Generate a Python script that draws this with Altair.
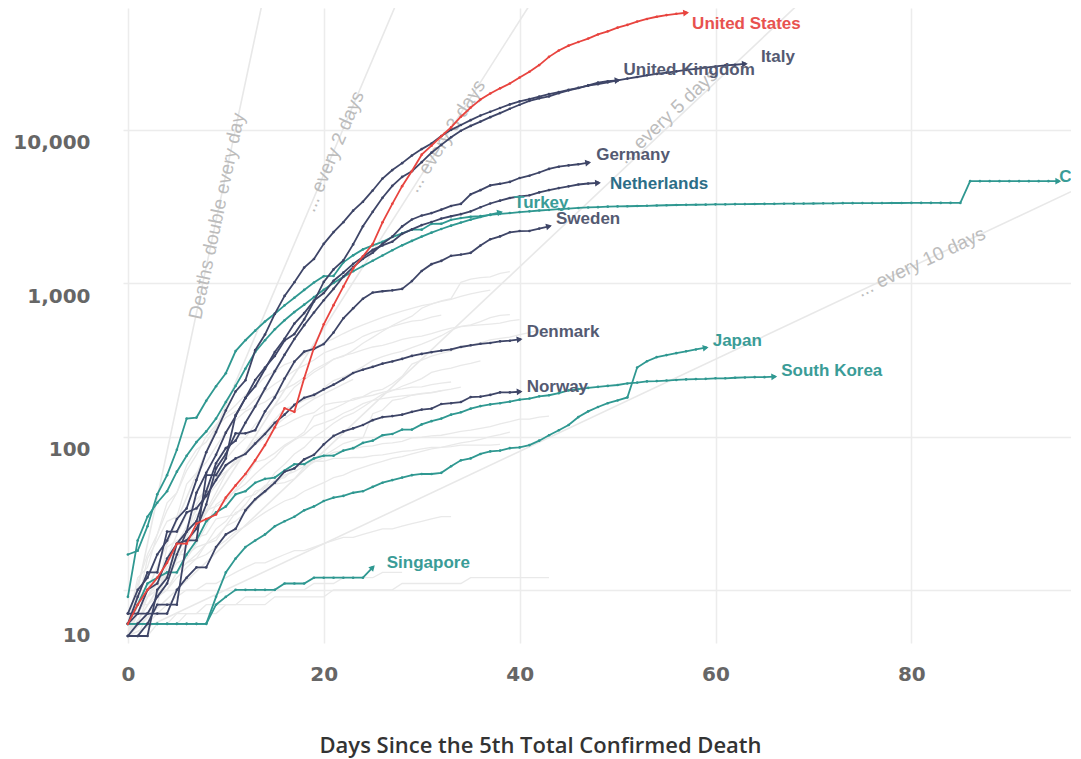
import math
import altair as alt
import pandas as pd

# ---------------- data ----------------
X_TICKS = [0, 20, 40, 60, 80]
Y_TICKS = [10, 100, 1000, 10000]

UNITED_STATES = [6, 8, 10, 12, 15, 20, 20, 27, 29, 31, 40, 48, 57, 70, 88, 115, 153, 145, 240, 380,
                 540, 720, 950, 1250, 1500, 1800, 2500, 3300, 4300, 5400, 6900, 7900, 9100, 10400, 12200,
                 14000, 15800, 17300, 18700, 20100, 22000, 24000, 26500, 30000, 33000, 35500, 37500,
                 39500, 42000, 44000, 46500, 48500, 51000, 53000, 54800, 56200, 57300, 58200]
UNITED_KINGDOM = [5, 5, 6, 8, 8, 8, 21, 21, 56, 56, 72, 138, 178, 234, 282, 336, 423, 466, 580, 761,
                  1021, 1231, 1411, 1793, 2357, 2926, 3611, 4320, 4943, 5385, 6171, 7111, 7993, 8974,
                  9892, 10629, 11347, 12129, 12894, 13759, 14607, 15498, 16095, 16550, 17378, 18151,
                  18791, 19567, 20381, 20794, 21092]
ITALY = [7, 10, 12, 17, 21, 29, 34, 52, 79, 107, 148, 197, 233, 366, 463, 631, 827, 1016, 1266, 1441,
         1809, 2158, 2503, 2978, 3405, 4032, 4825, 5476, 6077, 6820, 7503, 8165, 9134, 10023, 10779,
         11591, 12428, 13155, 13915, 14681, 15362, 15887, 16523, 17127, 17669, 18279, 18849, 19468,
         19899, 20465, 21067, 21645, 22170, 22745, 23227, 23660, 24114, 24648, 25085, 25549, 25969,
         26384, 26644, 26977]
GERMANY = [5, 6, 7, 9, 11, 17, 24, 28, 44, 67, 84, 94, 123, 157, 206, 267, 342, 433, 533, 645, 775,
           920, 1107, 1275, 1444, 1584, 1810, 2016, 2349, 2607, 2767, 2871, 3022, 3194, 3294, 3804,
           4052, 4352, 4459, 4586, 4862, 5033, 5279, 5575, 5760, 5877, 5976, 6126]
NETHERLANDS = [5, 5, 5, 10, 12, 20, 24, 43, 58, 76, 106, 136, 179, 213, 276, 356, 434, 546, 639, 771,
               864, 1039, 1173, 1339, 1487, 1651, 1766, 1867, 2101, 2248, 2396, 2511, 2643, 2737, 2823,
               2945, 3134, 3315, 3459, 3601, 3684, 3751, 3916, 4054, 4177, 4289, 4409, 4475, 4518]
TURKEY = [9, 21, 30, 37, 44, 59, 75, 92, 108, 131, 168, 214, 277, 356, 425, 501, 574, 649, 725, 812,
          908, 1006, 1101, 1198, 1296, 1403, 1518, 1643, 1769, 1890, 2017, 2140, 2259, 2376, 2491,
          2600, 2706, 2805, 2900]
SWEDEN = [6, 7, 10, 11, 16, 20, 21, 25, 36, 62, 77, 105, 105, 110, 146, 180, 239, 308, 358, 373, 401,
          477, 591, 687, 793, 870, 887, 899, 919, 1033, 1203, 1333, 1400, 1511, 1540, 1580, 1765, 1937,
          2021, 2152, 2192, 2194, 2274, 2355]
DENMARK = [6, 9, 13, 13, 24, 24, 32, 34, 41, 52, 65, 72, 77, 90, 104, 123, 139, 161, 179, 187, 203,
           218, 237, 260, 273, 285, 299, 309, 321, 336, 346, 355, 364, 370, 384, 394, 403, 408, 418,
           422, 431]
NORWAY = [7, 7, 7, 7, 7, 10, 12, 14, 14, 19, 23, 25, 33, 39, 44, 50, 59, 62, 71, 76, 89, 101, 108, 113,
          119, 128, 134, 136, 139, 145, 150, 152, 163, 165, 168, 181, 182, 187, 194, 194, 196]
JAPAN = [6, 6, 6, 6, 6, 6, 6, 6, 6, 9, 13, 16, 19, 21, 23, 26, 28, 30, 33, 35, 38, 40, 41, 43, 44, 47,
         50, 52, 54, 56, 57, 57, 58, 64, 70, 72, 77, 80, 81, 84, 85, 88, 94, 102, 110, 119, 134, 146,
         156, 165, 172, 180, 282, 310, 330, 340, 350, 360, 370, 380]
SOUTH_KOREA = [6, 8, 11, 12, 13, 13, 17, 21, 28, 32, 35, 42, 44, 50, 53, 54, 60, 66, 66, 72, 75, 75,
               81, 84, 91, 94, 102, 104, 111, 111, 120, 126, 131, 139, 144, 152, 158, 162, 165, 169,
               174, 177, 183, 186, 192, 200, 204, 208, 211, 214, 217, 222, 225, 229, 230, 232, 234,
               236, 237, 238, 240, 240, 242, 243, 244, 244, 246]
SINGAPORE = [6, 6, 6, 6, 6, 6, 6, 6, 6, 8, 9, 10, 10, 10, 10, 10, 11, 11, 11, 12, 12, 12, 12, 12, 12, 14]
CHINA = [17, 18, 26, 42, 56, 82, 131, 133, 171, 213,
         259, 361, 425, 491, 563, 633, 718, 805, 905, 1012,
         1112, 1117, 1369, 1521, 1663, 1766, 1864, 2003, 2116, 2238,
         2238, 2443, 2445, 2595, 2665, 2717, 2746, 2790, 2837,
         2872, 2914, 2947, 2983, 3015, 3044, 3072, 3100, 3123, 3139,
         3161, 3172, 3180, 3193, 3203, 3217, 3230, 3241, 3249, 3253,
         3259, 3274, 3274, 3281, 3285, 3291, 3296, 3299, 3304, 3308, 3309,
         3316, 3322, 3326, 3330, 3333, 3335, 3335, 3337, 3339, 3340,
         3343, 3343, 3345, 3345, 3346, 3346, 4636, 4636, 4636, 4636,
         4636, 4636, 4636, 4637, 4637, 4637]

# other countries, drawn in light grey
GREY_A = [5, 6, 9, 10, 19, 21, 22, 36, 46, 54, 71, 85, 98, 120, 137, 158, 174, 210, 235, 263, 287, 320,
          334, 365, 406, 444, 486, 530, 571, 610, 687, 730, 769, 794, 1014, 1063, 1087, 1102, 1159, 1190]
GREY_B = [6, 12, 14, 23, 33, 43, 60, 76, 100, 119, 140, 160, 187, 209, 246, 266, 295, 311, 345, 380,
          409, 435, 470, 504, 535, 567, 599, 629, 657, 687, 714, 735, 762, 785, 820, 854, 880, 903]
GREY_C = [6, 8, 16, 21, 28, 30, 49, 58, 68, 86, 108, 128, 146, 158, 168, 186, 204, 220, 243, 273, 295,
          319, 337, 350, 368, 384, 393, 410, 431, 443, 452, 470, 491, 510, 522, 530, 536, 542, 549, 569, 580]
GREY_D = [5, 5, 7, 8, 14, 17, 22, 31, 33, 43, 57, 71, 79, 94, 107, 129, 152, 159, 173, 181, 208, 232,
          245, 263, 286, 314, 332, 347, 360, 380, 401, 426, 455, 494, 524, 535, 562, 596, 618, 624]
GREY_E = [6, 11, 17, 23, 37, 43, 65, 82, 92, 115, 133, 146, 151, 176, 197, 220, 242, 270, 291, 316,
          351, 372, 392, 411, 451, 478, 498, 524, 545, 567, 575, 601, 619]
GREY_F = [6, 9, 9, 11, 16, 23, 31, 39, 44, 53, 59, 67, 78, 88, 99, 112, 119, 129, 138, 143, 161, 166,
          169, 173, 181, 186, 194, 201, 205, 210, 211, 218, 223, 227]
GREY_G = [5, 7, 9, 11, 13, 17, 17, 19, 20, 25, 28, 34, 40, 42, 48, 49, 56, 59, 64, 72, 75, 82, 90, 94,
          98, 141, 149, 172, 177, 186, 190, 193, 199]
GREY_H = [5, 6, 6, 9, 10, 13, 15, 17, 20, 22, 26, 28, 32, 38, 43, 49, 50, 53, 63, 68, 73, 79, 81, 83,
          86, 87, 90, 91, 93, 98, 99, 101, 102, 105, 108, 110, 113, 116, 121, 125, 130, 130, 134, 136]
GREY_I = [7, 8, 8, 9, 15, 18, 21, 22, 23, 29, 30, 31, 36, 44, 46, 52, 54, 62, 66, 69, 69, 72, 72, 73,
          73, 75, 76, 78, 80, 81, 83, 85, 85, 86, 88, 88, 88, 88, 89]
GREY_J = [6, 7, 9, 10, 10, 13, 15, 16, 20, 21, 26, 32, 34, 38, 47, 58, 66, 77, 85, 99, 109, 122, 134,
          142, 156, 172, 189, 199, 213, 225, 239, 262, 272, 280, 291, 300, 312]
GREY_K = [5, 8, 10, 12, 12, 15, 16, 20, 26, 36, 40, 44, 49, 57, 65, 73, 86, 95, 103, 117, 123, 130, 142,
          151, 164, 172, 177, 181, 184, 187, 191, 194, 199, 204, 210]
GREY_L = [5, 8, 11, 12, 12, 17, 19, 25, 33, 35, 38, 45, 54, 68, 71, 78, 88, 96, 107, 136, 144, 152, 163,
          177, 182, 197, 203, 221, 247, 297, 315, 335, 349, 362, 387, 397, 409, 428, 437, 446, 462, 477,
          494, 501, 511]
GREY_M = [5, 5, 6, 6, 6, 7, 7, 7, 8, 8, 8, 8, 9, 9, 9, 10, 10, 10, 10, 11, 11, 11, 12, 12, 12, 12, 13, 13, 13]
GREY_N = [5, 6, 6, 7, 8, 9, 10, 10, 11, 11, 12, 13, 14, 15, 15, 16, 17, 18, 18, 19, 20, 21, 22, 22, 23,
          24, 25, 25, 26, 27, 28, 29, 30, 30]
GREY_O = [5, 6, 7, 9, 10, 12, 14, 16, 17, 19, 21, 24, 26, 29, 32, 35, 38, 40, 44, 47, 50, 54, 56, 60, 63,
          66, 69, 72, 74, 77, 80, 83, 85, 88, 91, 93, 96, 100, 103, 107]
GREY_P = [5, 5, 5, 6, 6, 6, 7, 7, 7, 7, 8, 8, 8, 8, 8, 9, 9, 9, 9, 9, 9, 10, 10, 10, 10, 10, 10, 10, 11, 11,
          11, 11, 11, 11, 11, 12, 12, 12, 12, 12, 12, 12, 12, 12]
GREY_Q = [6, 7, 9, 12, 15, 20, 26, 33, 40, 48, 58, 68, 80, 91, 103, 117, 132, 145, 160, 176, 190, 204,
          220, 236]

HIGHLIGHT = [
    ("China", "teal", CHINA),
    ("Singapore", "teal", SINGAPORE),
    ("South Korea", "teal", SOUTH_KOREA),
    ("Japan", "teal", JAPAN),
    ("Turkey", "teal", TURKEY),
    ("Norway", "navy", NORWAY),
    ("Denmark", "navy", DENMARK),
    ("Sweden", "navy", SWEDEN),
    ("Netherlands", "navy", NETHERLANDS),
    ("Germany", "navy", GERMANY),
    ("United Kingdom", "navy", UNITED_KINGDOM),
    ("Italy", "navy", ITALY),
    ("United States", "red", UNITED_STATES),
]
GREYS = [GREY_A, GREY_B, GREY_C, GREY_D, GREY_E, GREY_F, GREY_G, GREY_H, GREY_I, GREY_J,
         GREY_K, GREY_L, GREY_M, GREY_N, GREY_O, GREY_P, GREY_Q]

REF_PERIODS = [1, 2, 3, 5, 10]
REF_TEXTS = ["Deaths double every day", "... every 2 days", "... every 3 days",
             "... every 5 days", "... every 10 days"]
REF_LABEL_DAYS = [9.1, 21.0, 32.5, 55.7, 81.0]

# ---------------- styles ----------------
X_MIN, X_MAX = -0.5, 96.3
Y_MIN, Y_MAX = 4.5, 62500
PLOT_W, PLOT_H = 948, 635
PX_PER_DAY = PLOT_W / (X_MAX - X_MIN)
PX_PER_DECADE = PLOT_H / (math.log10(Y_MAX) - math.log10(Y_MIN))

LINE_COLORS = {"teal": "#2f9891", "navy": "#3e4567", "red": "#e8443f"}
TEXT_COLORS = {"teal": "#3a9c97", "navy": "#545a72", "red": "#e8524f"}
LABEL_OFFSETS = {  # dx, dy in px from the end of each line
    "United States": (6, 11), "United Kingdom": (6, -10), "Italy": (16, -7),
    "Germany": (8, -8), "Netherlands": (12, 1), "Turkey": (14, -9),
    "Sweden": (7, -7), "Denmark": (7, -7), "Norway": (7, -5),
    "Japan": (7, -7), "South Korea": (7, -6), "Singapore": (14, -4), "China": (1, -4),
}
REF_LABEL_DY = [0, 0, 0, -8, 0]
LABEL_COLOR_OVERRIDE = {"Netherlands": "#2c6d87"}
FONT_AX = "DejaVu Sans"
FONT_LBL = "Liberation Sans"


def seg_angle(prev_v, last_v):
    dy = PX_PER_DECADE * (math.log10(last_v) - math.log10(prev_v))
    deg = math.degrees(math.atan2(dy, PX_PER_DAY))
    return (360 - deg) % 360


# ---------------- tables ----------------
rows = []
ends = []
for name, grp, vals in HIGHLIGHT:
    for d, v in enumerate(vals):
        rows.append({"country": name, "group": grp, "day": d, "deaths": v})
    ends.append({"country": name, "group": grp, "day": len(vals) - 1, "deaths": vals[-1],
                 "angle": seg_angle(vals[-2], vals[-1])})
hl = pd.DataFrame(rows)
ends_df = pd.DataFrame(ends)

grey_rows = []
for i, vals in enumerate(GREYS):
    for d, v in enumerate(vals):
        grey_rows.append({"country": f"g{i}", "day": d, "deaths": v})
grey = pd.DataFrame(grey_rows)

ref_rows, ref_lbl = [], []
for k, txt, ld in zip(REF_PERIODS, REF_TEXTS, REF_LABEL_DAYS):
    end_day = min(X_MAX, k * math.log2(Y_MAX * 1.2 / 5))
    ref_rows.append({"k": k, "day": 0, "deaths": 5})
    ref_rows.append({"k": k, "day": end_day, "deaths": 5 * 2 ** (end_day / k)})
    slope = math.degrees(math.atan2(PX_PER_DECADE * math.log10(2) / k, PX_PER_DAY))
    ref_lbl.append({"k": k, "text": txt, "day": ld, "deaths": 5 * 2 ** (ld / k),
                    "angle": (360 - slope) % 360})
ref = pd.DataFrame(ref_rows)
ref_lbl_df = pd.DataFrame(ref_lbl)

# ---------------- encodings ----------------
x_axis = alt.Axis(values=X_TICKS, grid=True, gridColor="#ececec", gridWidth=1.5, domain=False,
                  ticks=False, labelFont=FONT_AX, labelFontSize=20, labelColor="#666666",
                  labelFontWeight="bold", labelPadding=21, labelFlush=False,
                  titleFont="Open Sans", titleFontSize=22, titleFontWeight=600,
                  titleColor="#333333", titleX=417, titleY=102, titleBaseline="middle",
                  titleAlign="center", titleAnchor="start")
y_axis = alt.Axis(values=Y_TICKS, format=",", grid=True, gridColor="#ececec", gridWidth=1.5,
                  domain=False, ticks=False, labelFont=FONT_AX, labelFontSize=20,
                  labelColor="#666666", labelFontWeight="bold", labelPadding=33,
                  labelOffset={"condition": {"test": "datum.value == 10", "value": 46}, "value": 13})

X = alt.X("day:Q", scale=alt.Scale(domain=[X_MIN, X_MAX], nice=False, zero=False),
          axis=x_axis, title="Days Since the 5th Total Confirmed Death")
Y = alt.Y("deaths:Q", scale=alt.Scale(type="log", domain=[Y_MIN, Y_MAX], nice=False),
          axis=y_axis, title=None)

color_scale = alt.Scale(domain=list(LINE_COLORS.keys()), range=list(LINE_COLORS.values()))

ref_lines = alt.Chart(ref).mark_line(color="#e8e8e8", strokeWidth=1.6, clip=True).encode(
    x=X, y=Y, detail="k:N")
grey_lines = alt.Chart(grey).mark_line(color="#e9e9e9", strokeWidth=1.3, clip=True).encode(
    x=X, y=Y, detail="country:N")

layers = [ref_lines, grey_lines]
for i, row in ref_lbl_df.iterrows():
    layers.append(alt.Chart(ref_lbl_df.iloc[[i]]).mark_text(
        color="#bcbcbc", fontSize=19, font=FONT_LBL, align="center", baseline="middle",
        dy=REF_LABEL_DY[i]).encode(x=X, y=Y, text="text:N",
                                   angle=alt.Angle("angle:Q", scale=None)))

for grp in ["teal", "navy", "red"]:
    sub = hl[hl["group"] == grp]
    layers.append(alt.Chart(sub).mark_line(
        strokeWidth=1.8, clip=True,
        point=alt.OverlayMarkDef(size=7, filled=True, opacity=1)).encode(
        x=X, y=Y, detail="country:N",
        color=alt.Color("group:N", scale=color_scale, legend=None),
        order="day:Q"))

arrows = alt.Chart(ends_df).mark_point(shape="triangle-right", filled=True, size=45, opacity=1,
                                       clip=True).encode(
    x=X, y=Y, color=alt.Color("group:N", scale=color_scale, legend=None),
    angle=alt.Angle("angle:Q", scale=None))
layers.append(arrows)

for name, grp, vals in HIGHLIGHT:
    dx, dy = LABEL_OFFSETS[name]
    col = LABEL_COLOR_OVERRIDE.get(name, TEXT_COLORS[grp])
    sub = ends_df[ends_df["country"] == name]
    layers.append(alt.Chart(sub).mark_text(
        align="left", baseline="middle", dx=dx, dy=dy, font=FONT_LBL, fontSize=17,
        fontWeight="bold", color=col, clip=True).encode(x=X, y=Y, text="country:N"))

chart = alt.layer(*layers).properties(
    width=PLOT_W, height=PLOT_H,
    padding={"left": 4, "top": 0, "right": 0, "bottom": 4},
    background="white",
).configure_view(strokeWidth=0)

chart.save("out.html", embed_options={"renderer": "svg", "actions": False})
